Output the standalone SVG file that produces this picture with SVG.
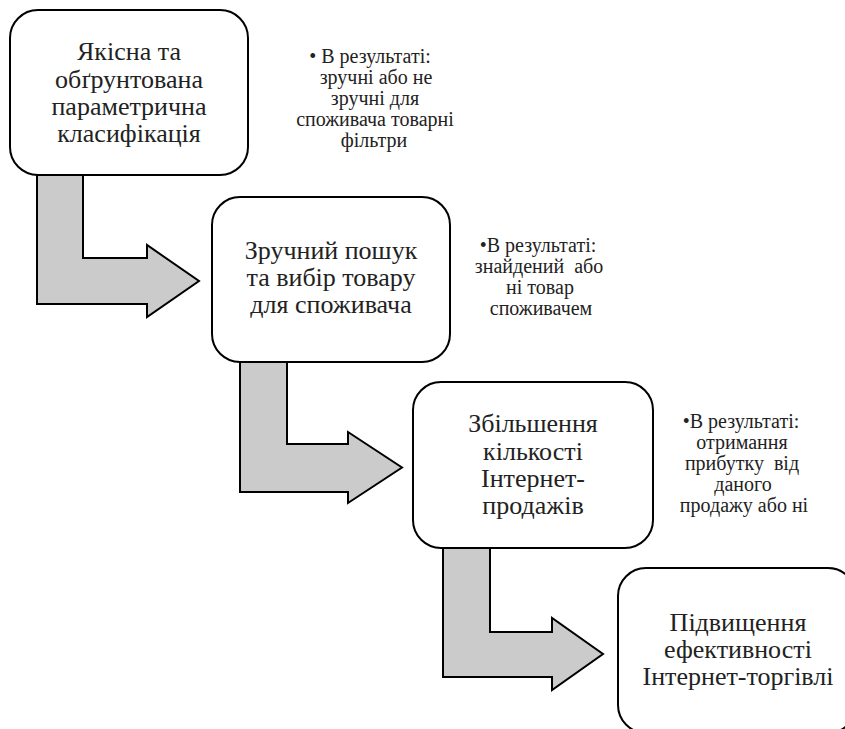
<svg xmlns="http://www.w3.org/2000/svg" width="845" height="729" viewBox="0 0 845 729">
<style>
.box{fill:#fff;stroke:#000;stroke-width:2}
.arr{fill:#cbcbcb;stroke:#000;stroke-width:2;stroke-linejoin:miter}
.t{font-family:'Liberation Serif','Times New Roman',serif;font-size:26px;fill:#222;text-anchor:middle}
.s{font-family:'Liberation Serif','Times New Roman',serif;font-size:20px;fill:#222;text-anchor:middle}
</style>
<rect width="845" height="729" fill="#fff"/>
<g id="connectors">
<polygon class="arr" points="37,175 83,175 83,258 147,258 147,245 199,281 147,317 147,304 37,304"/>
<polygon class="arr" points="240,362 287,362 287,444 348,444 348,432 402,467.5 348,503 348,492 240,492"/>
<polygon class="arr" points="443,548 490,548 490,632 552,632 552,618 603,654 552,690 552,677 443,677"/>
</g>
<g id="node1">
<rect class="box" x="10" y="10" width="238" height="165" rx="28"/>
<text class="t"><tspan x="129" y="60">Якісна та</tspan><tspan x="129" y="88">обґрунтована</tspan><tspan x="129" y="115">параметрична</tspan><tspan x="129" y="142">класифікація</tspan></text>
</g>
<g id="note1">
<text class="s"><tspan x="370" y="63">• В результаті:</tspan><tspan x="376" y="84">зручні або не</tspan><tspan x="375" y="105">зручні для</tspan><tspan x="375" y="126">споживача товарні</tspan><tspan x="374" y="147">фільтри</tspan></text>
</g>
<g id="node2">
<rect class="box" x="212" y="197" width="238" height="165" rx="28"/>
<text class="t"><tspan x="331" y="259">Зручний пошук</tspan><tspan x="331" y="286">та вибір товару</tspan><tspan x="331" y="313">для споживача</tspan></text>
</g>
<g id="note2">
<text class="s"><tspan x="538" y="252">•В результаті:</tspan><tspan x="539" y="273" xml:space="preserve">знайдений  або</tspan><tspan x="540" y="294">ні товар</tspan><tspan x="541" y="315">споживачем</tspan></text>
</g>
<g id="node3">
<rect class="box" x="413" y="382" width="240" height="166" rx="28"/>
<text class="t"><tspan x="533" y="432">Збільшення</tspan><tspan x="533" y="460">кількості</tspan><tspan x="533" y="487">Інтернет-</tspan><tspan x="533" y="514">продажів</tspan></text>
</g>
<g id="note3">
<text class="s"><tspan x="741" y="428">•В результаті:</tspan><tspan x="742" y="449">отримання</tspan><tspan x="742" y="470" xml:space="preserve">прибутку  від</tspan><tspan x="743" y="491">даного</tspan><tspan x="744" y="512">продажу або ні</tspan></text>
</g>
<g id="node4">
<rect class="box" x="618" y="568" width="238" height="165" rx="28"/>
<text class="t"><tspan x="738" y="631">Підвищення</tspan><tspan x="738" y="658">ефективності</tspan><tspan x="738" y="685">Інтернет-торгівлі</tspan></text>
</g>
</svg>
